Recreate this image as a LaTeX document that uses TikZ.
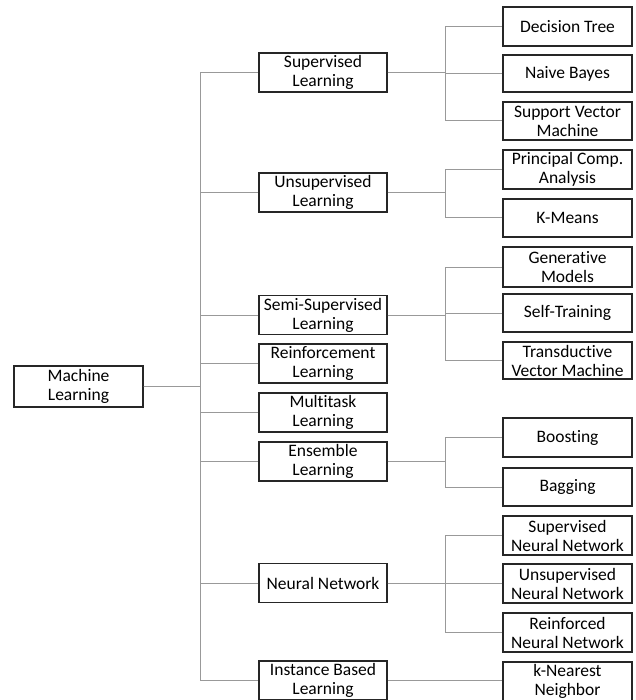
\documentclass[tikz,border=0pt]{standalone}
\usepackage{fontspec}
\setmainfont{Carlito}[Ligatures=NoCommon]
\begin{document}
\begin{tikzpicture}[x=1pt,y=-1pt,
  box/.style={draw=black!85,line width=1.3pt,fill=white,minimum width=129pt,minimum height=39pt,
    inner sep=0pt,align=center,font=\fontsize{17.5}{19}\selectfont},
  conn/.style={draw=black!40,line width=1pt}]
\useasboundingbox (0,0) rectangle (635,700);
\coordinate (t1) at (200,0);
\coordinate (t2) at (445,0);
% root
\node[box,minimum height=41pt] (ml) at (78.5,386.5) {Machine\\Learning};
% level 2
\node[box,minimum width=128pt] (sup) at (323,72.5) {Supervised\\Learning};
\node[box,minimum width=128pt] (uns) at (323,192.5) {Unsupervised\\Learning};
\node[box,minimum width=128pt] (semi) at (323,315) {Semi-Supervised\\Learning};
\node[box,minimum width=128pt] (rein) at (323,363.5) {Reinforcement\\Learning};
\node[box,minimum width=128pt] (multi) at (323,412.5) {Multitask\\Learning};
\node[box,minimum width=128pt] (ens) at (323,461.5) {Ensemble\\Learning};
\node[box,minimum width=128pt] (nn) at (323,583) {Neural Network};
\node[box,minimum width=128pt] (inst) at (323,680.5) {Instance Based\\Learning};
% level 3
\node[box] (dt) at (567.5,26.5) {Decision Tree};
\node[box,minimum height=37pt] (nb) at (567.5,73.5) {Naive Bayes};
\node[box,minimum height=38pt] (svm) at (567.5,121) {Support Vector\\Machine};
\node[box] (pca) at (567.5,169.5) {Principal Comp.\\Analysis};
\node[box,minimum height=38pt] (km) at (567.5,218) {K-Means};
\node[box,minimum height=40pt] (gen) at (567.5,267) {Generative\\Models};
\node[box,minimum height=38pt] (self) at (567.5,313) {Self-Training};
\node[box,minimum height=37pt] (trans) at (567.5,360.5) {Transductive\\Vector Machine};
\node[box] (boost) at (567.5,437.5) {Boosting};
\node[box,minimum height=38pt] (bag) at (567.5,487) {Bagging};
\node[box] (snn) at (567.5,535.5) {Supervised\\Neural Network};
\node[box] (unn) at (567.5,583.5) {Unsupervised\\Neural Network};
\node[box] (rnn) at (567.5,632.5) {Reinforced\\Neural Network};
\node[box] (knn) at (567.5,681.5) {k-Nearest\\Neighbor};
% connectors level 1
\foreach \c in {sup,uns,semi,rein,multi,ens,nn,inst}
  \draw[conn] (ml.east) -- (ml.east -| t1) |- (\c.west);
% connectors level 2
\foreach \c in {dt,nb,svm} \draw[conn] (sup.east) -- (sup.east -| t2) |- (\c.west);
\foreach \c in {pca,km} \draw[conn] (uns.east) -- (uns.east -| t2) |- (\c.west);
\foreach \c in {gen,self,trans} \draw[conn] (semi.east) -- (semi.east -| t2) |- (\c.west);
\foreach \c in {boost,bag} \draw[conn] (ens.east) -- (ens.east -| t2) |- (\c.west);
\foreach \c in {snn,unn,rnn} \draw[conn] (nn.east) -- (nn.east -| t2) |- (\c.west);
\draw[conn] (inst.east) -- (knn.west |- inst.east);
\end{tikzpicture}
\end{document}
